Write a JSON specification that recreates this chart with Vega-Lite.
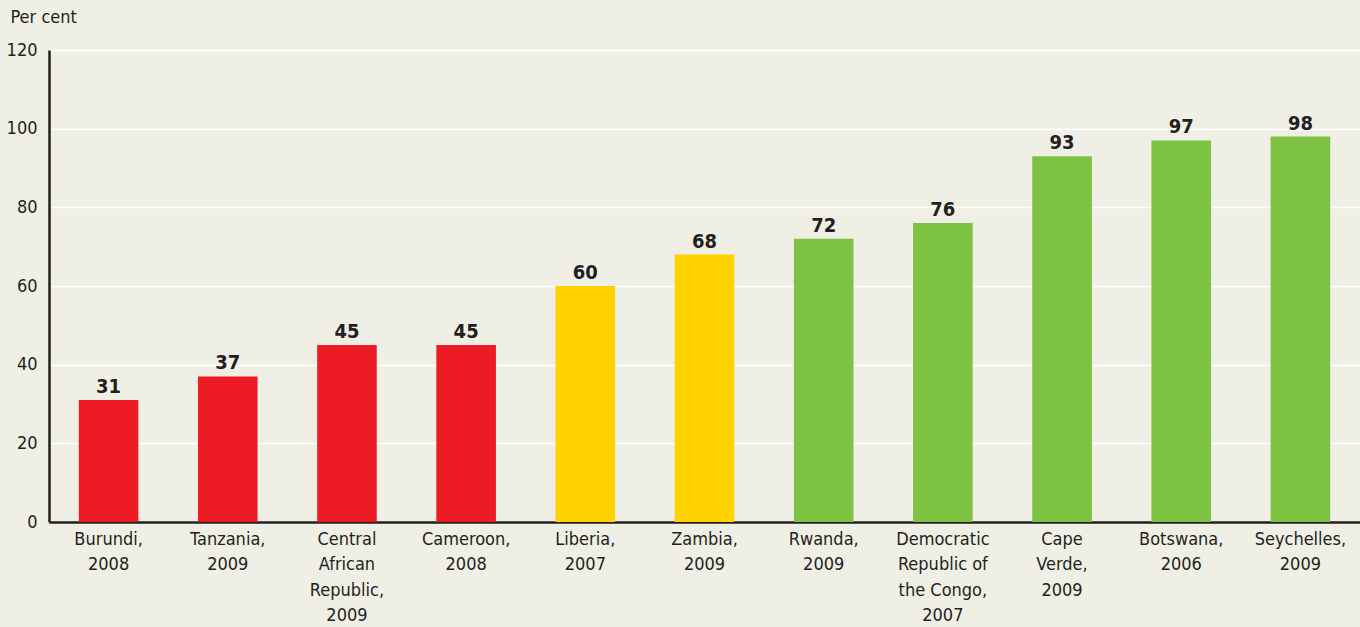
{
  "$schema": "https://vega.github.io/schema/vega-lite/v6.json",
  "width": 1311,
  "height": 472,
  "autosize": "none",
  "padding": {"left": 49, "top": 50, "right": 0, "bottom": 105},
  "background": "#f0efe6",
  "config": {
    "view": {"stroke": null},
    "font": "'DejaVu Sans Condensed', Roboto, sans-serif",
    "axis": {"labelFont": "'DejaVu Sans Condensed', Roboto, sans-serif", "titleFont": "'DejaVu Sans Condensed', Roboto, sans-serif"}
  },
  "data": {
    "values": [
      {"label": "Burundi,|2008", "value": 31, "group": "low"},
      {"label": "Tanzania,|2009", "value": 37, "group": "low"},
      {"label": "Central|African|Republic,|2009", "value": 45, "group": "low"},
      {"label": "Cameroon,|2008", "value": 45, "group": "low"},
      {"label": "Liberia,|2007", "value": 60, "group": "mid"},
      {"label": "Zambia,|2009", "value": 68, "group": "mid"},
      {"label": "Rwanda,|2009", "value": 72, "group": "high"},
      {"label": "Democratic|Republic of|the Congo,|2007", "value": 76, "group": "high"},
      {"label": "Cape|Verde,|2009", "value": 93, "group": "high"},
      {"label": "Botswana,|2006", "value": 97, "group": "high"},
      {"label": "Seychelles,|2009", "value": 98, "group": "high"}
    ]
  },
  "encoding": {
    "x": {
      "field": "label",
      "type": "nominal",
      "sort": null,
      "scale": {"paddingInner": 0.5, "paddingOuter": 0.25},
      "axis": {
        "title": null,
        "labelAngle": 0,
        "labelExpr": "split(datum.label, '|')",
        "labelFontSize": 18,
        "labelColor": "#231f20",
        "labelLineHeight": 25.5,
        "labelPadding": 8,
        "ticks": false,
        "domainColor": "#231f20",
        "domainWidth": 2.5,
        "labelBaseline": "top"
      }
    },
    "y": {
      "field": "value",
      "type": "quantitative",
      "scale": {"domain": [0, 120]},
      "axis": {
        "values": [0, 20, 40, 60, 80, 100, 120],
        "title": "Per cent",
        "titleAngle": 0,
        "titleAlign": "left",
        "titleBaseline": "middle",
        "titleX": -39,
        "titleY": -33,
        "titleFontSize": 18,
        "titleFontWeight": "normal",
        "titleColor": "#231f20",
        "labelFontSize": 18,
        "labelColor": "#231f20",
        "labelPadding": 12,
        "ticks": false,
        "domainColor": "#231f20",
        "domainWidth": 2.5,
        "gridColor": "#ffffff",
        "gridWidth": 1.5,
        "gridOpacity": 1
      }
    }
  },
  "layer": [
    {
      "mark": {"type": "bar"},
      "encoding": {
        "color": {
          "field": "group",
          "type": "nominal",
          "scale": {"domain": ["low", "mid", "high"], "range": ["#ed1c24", "#ffd200", "#7dc242"]},
          "legend": null
        }
      }
    },
    {
      "mark": {"type": "text", "dy": -13, "fontSize": 20, "fontWeight": "bold", "color": "#231f20"},
      "encoding": {"text": {"field": "value", "type": "quantitative"}}
    }
  ]
}
